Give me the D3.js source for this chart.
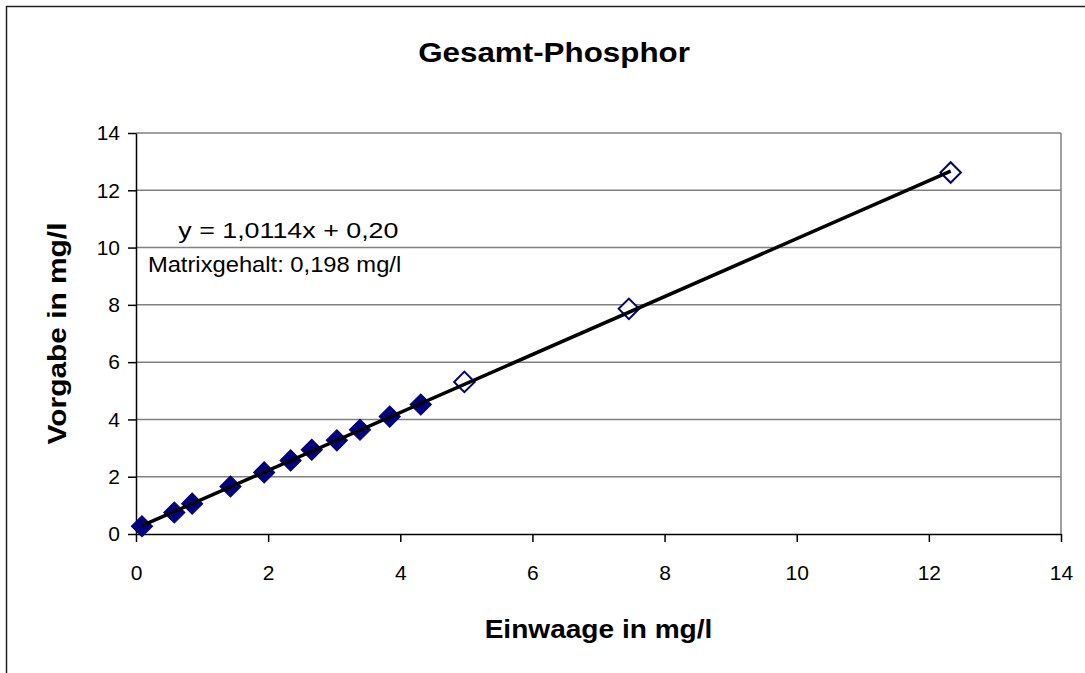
<!DOCTYPE html>
<html>
<head>
<meta charset="utf-8">
<script src="https://cdn.jsdelivr.net/npm/d3@7"></script>
<style>
  body { margin: 0; background: #fff; }
  svg { display: block; font-family: Arial, "Liberation Sans", sans-serif; }
</style>
</head>
<body>
<div id="chart"></div>
<script>
// Einwaage (x) und Vorgabe (y)
const filledX = [0.09, 0.58, 0.85, 1.43, 1.94, 2.34, 2.66, 3.04, 3.39, 3.84, 4.31];
const filledY = [0.27, 0.75, 1.06, 1.66, 2.15, 2.57, 2.94, 3.27, 3.64, 4.10, 4.52];
const openX = [4.97, 7.46, 12.33];
const openY = [5.31, 7.86, 12.62];
const tickValues = [0, 2, 4, 6, 8, 10, 12, 14];
const slope = 1.0114;
const intercept = 0.198;

const W = 1085, H = 673;
const margin = { top: 133, right: 24, bottom: 139, left: 136 };
const width = W - margin.left - margin.right;
const height = H - margin.top - margin.bottom;

const svg = d3.select('#chart').append('svg')
  .attr('width', W)
  .attr('height', H);

// outer chart frame (runs off right and bottom)
svg.append('rect')
  .attr('x', 6.5).attr('y', 6.5)
  .attr('width', W + 20).attr('height', H + 20)
  .attr('fill', 'none')
  .attr('stroke', '#222')
  .attr('stroke-width', 1.5);

const g = svg.append('g')
  .attr('transform', `translate(${margin.left},${margin.top})`);

const x = d3.scaleLinear().domain([0, 14]).range([0, width]);
const y = d3.scaleLinear().domain([0, 14]).range([height, 0]);

// grid lines
g.append('g')
  .selectAll('line')
  .data(tickValues.slice(1))
  .enter().append('line')
  .attr('x1', 0).attr('x2', width)
  .attr('y1', d => y(d)).attr('y2', d => y(d))
  .attr('stroke', '#808080')
  .attr('stroke-width', 1.5);

// right border of plot area
g.append('line')
  .attr('x1', width).attr('x2', width)
  .attr('y1', 0).attr('y2', height)
  .attr('stroke', '#808080')
  .attr('stroke-width', 1.5);

// axes
const xAxis = g.append('g')
  .attr('transform', `translate(0,${height})`)
  .call(d3.axisBottom(x).tickValues(tickValues).tickSize(8).tickSizeOuter(0).tickPadding(23));

const yAxis = g.append('g')
  .call(d3.axisLeft(y).tickValues(tickValues).tickSize(8).tickSizeOuter(0).tickPadding(8));

[xAxis, yAxis].forEach(a => {
  a.select('.domain').attr('stroke', '#000').attr('stroke-width', 1.5);
  a.selectAll('.tick line').attr('stroke', '#000').attr('stroke-width', 1.5);
  a.selectAll('.tick text')
    .attr('fill', '#000')
    .style('font-size', '21px')
    .style('font-family', 'Arial, "Liberation Sans", sans-serif');
});

// markers
g.selectAll('.filled')
  .data(filledX.map((v, i) => [v, filledY[i]]))
  .enter().append('path')
  .attr('class', 'filled')
  .attr('d', d3.symbol().type(d3.symbolSquare).size(225))
  .attr('transform', d => `translate(${x(d[0])},${y(d[1])}) rotate(45)`)
  .attr('fill', '#000080')
  .attr('stroke', '#000080')
  .attr('stroke-width', 1);

g.selectAll('.open')
  .data(openX.map((v, i) => [v, openY[i]]))
  .enter().append('path')
  .attr('class', 'open')
  .attr('d', d3.symbol().type(d3.symbolSquare).size(210))
  .attr('transform', d => `translate(${x(d[0])},${y(d[1])}) rotate(45)`)
  .attr('fill', '#fff')
  .attr('stroke', '#000080')
  .attr('stroke-width', 2);

// linear trend line
const allX = filledX.concat(openX);
const xExt = d3.extent(allX);
g.append('line')
  .attr('x1', x(xExt[0])).attr('y1', y(slope * xExt[0] + intercept))
  .attr('x2', x(xExt[1])).attr('y2', y(slope * xExt[1] + intercept))
  .attr('stroke', '#000')
  .attr('stroke-width', 3.5);

// equation label (the Excel text is a bit wider than Arial at same height)
g.append('text')
  .attr('transform', `translate(${x(0.64)},${y(10.35)}) scale(1.22,1)`)
  .style('font-size', '22px')
  .text('y = 1,0114x + 0,20');
g.append('text')
  .attr('transform', `translate(${x(0.18)},${y(9.15)}) scale(1.08,1)`)
  .style('font-size', '22px')
  .text('Matrixgehalt: 0,198 mg/l');

// titles
svg.append('text')
  .attr('transform', 'translate(554,62) scale(1.12,1)')
  .attr('text-anchor', 'middle')
  .style('font-size', '28px')
  .style('font-weight', 'bold')
  .text('Gesamt-Phosphor');

svg.append('text')
  .attr('transform', `translate(${margin.left + width / 2},638) scale(1.08,1)`)
  .attr('text-anchor', 'middle')
  .style('font-size', '26px')
  .style('font-weight', 'bold')
  .text('Einwaage in mg/l');

svg.append('text')
  .attr('transform', `translate(66,${margin.top + height / 2}) rotate(-90) scale(1.15,1)`)
  .attr('text-anchor', 'middle')
  .style('font-size', '26px')
  .style('font-weight', 'bold')
  .text('Vorgabe in mg/l');
</script>
</body>
</html>
